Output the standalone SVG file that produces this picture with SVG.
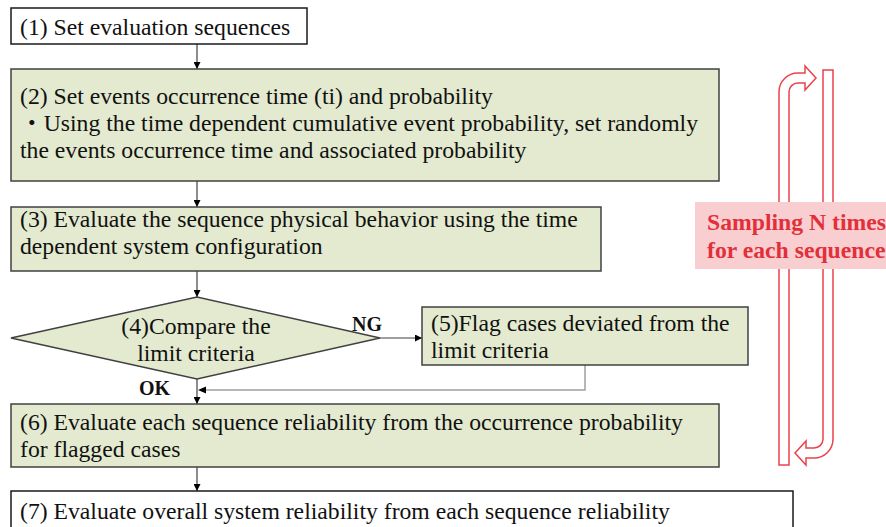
<svg xmlns="http://www.w3.org/2000/svg" width="886" height="527" viewBox="0 0 886 527">
<defs>
<marker id="ah" viewBox="0 0 10 10" refX="10" refY="5" markerWidth="7" markerHeight="7" markerUnits="userSpaceOnUse" orient="auto">
<path d="M0,0 L10,5 L0,10 Z" fill="#000"/>
</marker>
</defs>
<style>
text{font-family:"Liberation Serif","Times New Roman","Noto Sans CJK JP",serif;font-size:23.7px;fill:#111}
.g{fill:#e3eacf;stroke:#404040;stroke-width:1.5}
.w{fill:#fff;stroke:#1a1a1a;stroke-width:1.5}
.c{fill:none;stroke:#404040;stroke-width:1.2}
.fb{fill:none;stroke:#a0a0a0;stroke-width:1.5}
.b{font-weight:bold;font-size:20px}
.loop{fill:#fff;stroke:#e9434b;stroke-width:1.5}
.lbl{font-weight:bold;fill:#e2303b}
</style>
<g id="connectors">
<line class="c" x1="197" y1="44" x2="197" y2="69" marker-end="url(#ah)"/>
<line class="c" x1="197" y1="181" x2="197" y2="207" marker-end="url(#ah)"/>
<line class="c" x1="197" y1="271" x2="197" y2="297" marker-end="url(#ah)"/>
<line class="c" x1="380" y1="338" x2="422" y2="338" marker-end="url(#ah)"/>
<polyline class="fb" points="585,365 585,390 205,390"/>
<path d="M198,390 L206,386.5 L206,393.5 Z" fill="#000"/>
<line class="c" x1="197" y1="379" x2="197" y2="404" marker-end="url(#ah)"/>
<line class="c" x1="197" y1="467" x2="197" y2="491" marker-end="url(#ah)"/>
<text class="b" x="352" y="331">NG</text>
<text class="b" x="139" y="395">OK</text>
</g>
<g id="n1">
<rect class="w" x="11" y="8" width="296" height="36"/>
<text x="20" y="35">(1) Set evaluation sequences</text>
</g>
<g id="n2">
<rect class="g" x="11" y="69" width="708" height="112"/>
<text x="20" y="103.5">(2) Set events occurrence time (ti) and probability</text>
<text x="20" y="130.5">・Using the time dependent cumulative event probability, set randomly</text>
<text x="20" y="157.5">the events occurrence time and associated probability</text>
</g>
<g id="n3">
<rect class="g" x="11" y="207" width="590" height="64"/>
<text x="20" y="227">(3) Evaluate the sequence physical behavior using the time</text>
<text x="20" y="254">dependent system configuration</text>
</g>
<g id="n4">
<polygon class="g" points="11,338 197,297 380,338 197,379"/>
<text x="196" y="334" text-anchor="middle">(4)Compare the</text>
<text x="196" y="361" text-anchor="middle">limit criteria</text>
</g>
<g id="n5">
<rect class="g" x="422" y="307" width="326" height="58"/>
<text x="431" y="331">(5)Flag cases deviated from the</text>
<text x="431" y="358">limit criteria</text>
</g>
<g id="n6">
<rect class="g" x="11" y="404" width="708" height="63"/>
<text x="20" y="430">(6) Evaluate each sequence reliability from the occurrence probability</text>
<text x="20" y="457">for flagged cases</text>
</g>
<g id="n7">
<rect class="w" x="11" y="491" width="782" height="50"/>
<text x="20" y="519">(7) Evaluate overall system reliability from each sequence reliability</text>
</g>
<g id="loop">
<path class="loop" d="M779,465 L779,92 A19,19 0 0 1 798,73 L805,73 L805,66 L816,78 L805,90 L805,83 L798,83 A9,9 0 0 0 789,92 L789,465 Z"/>
<path class="loop" d="M823,70 L833,70 L833,439 A19,19 0 0 1 814,458 L806,458 L806,465 L795,453 L806,441 L806,448 L814,448 A9,9 0 0 0 823,439 Z"/>
<rect x="695" y="202" width="191" height="67" fill="#f9ced1"/>
<text class="lbl" x="707" y="230">Sampling N times</text>
<text class="lbl" x="707" y="258">for each sequence</text>
</g>
</svg>
